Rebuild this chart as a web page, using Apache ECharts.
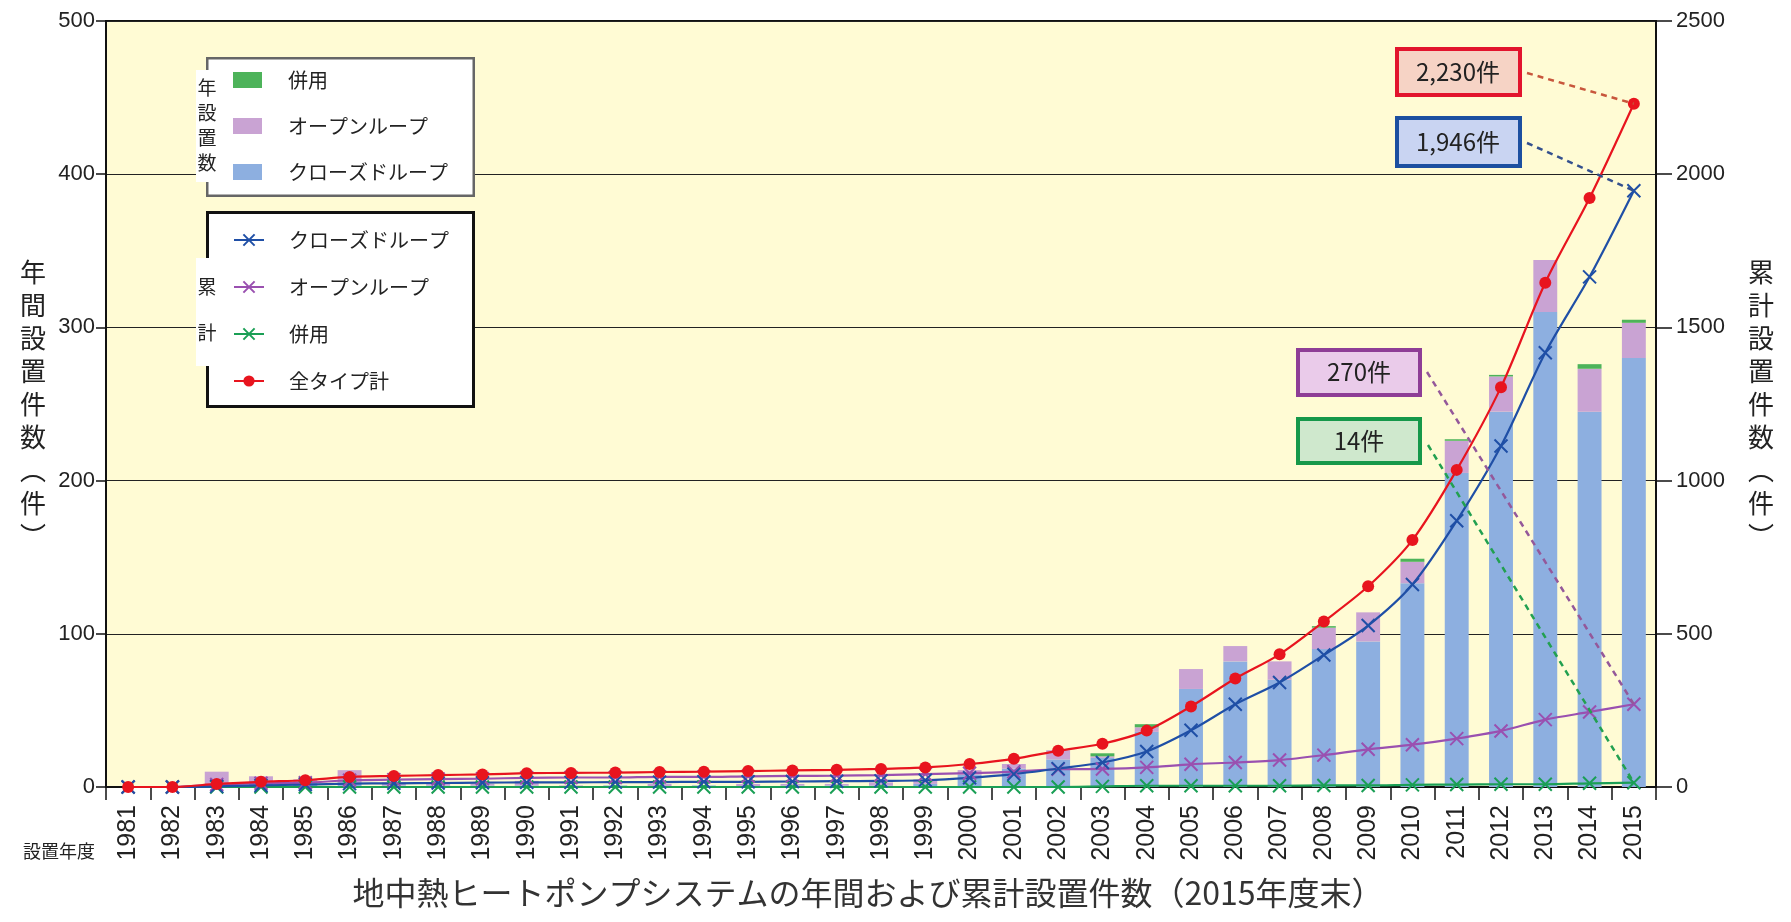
<!DOCTYPE html>
<html>
<head>
<meta charset="utf-8">
<title>地中熱ヒートポンプシステムの年間および累計設置件数</title>
<script src="https://cdn.jsdelivr.net/npm/echarts@6/dist/echarts.min.js"></script>
<style>
    html, body { margin: 0; padding: 0; background: #fff; }
    #chart { width: 1791px; height: 922px; }
</style>
</head>
<body>
<div id="chart"></div>
<script>
// 設置年度
var years = ['1981','1982','1983','1984','1985','1986','1987','1988','1989','1990',
             '1991','1992','1993','1994','1995','1996','1997','1998','1999','2000',
             '2001','2002','2003','2004','2005','2006','2007','2008','2009','2010',
             '2011','2012','2013','2014','2015'];

// 年設置数（左軸）
var annualClosed   = [0,0,2,3,3,3,1,1,1,1, 0,1,0,1,0,1,1,1,2,8, 12,18,19,36,64,82,70,90,95,133, 205,245,310,245,280];
var annualOpen     = [0,0,8,4,2,8,2,2,1,3, 1,0,2,0,2,1,1,2,3,3, 3,6,1,3,13,10,12,14,19,14, 21,23,34,28,23];
var annualCombined = [0,0,0,0,0,0,0,0,0,0, 0,0,0,0,0,0,0,0,0,0, 0,0,2,2,0,0,0,1,0,2, 1,1,0,3,2];

// 累計（右軸）
var cumClosed   = [0,0,2,5,8,11,12,13,14,15, 15,16,16,17,17,18,19,20,22,30, 42,60,80,116,185,270,341,431,527,661, 869,1113,1417,1665,1946];
var cumOpen     = [0,0,8,12,14,22,24,26,27,30, 31,31,33,33,35,36,37,39,42,45, 50,58,59,64,74,80,88,104,123,138, 158,183,220,245,270];
var cumCombined = [0,0,0,0,0,0,0,0,0,0, 0,0,0,0,0,0,0,0,0,0, 0,0,2,4,4,4,4,5,5,7, 8,9,9,12,14];
var cumTotal    = [0,0,10,17,22,33,36,39,41,45, 46,47,49,50,52,54,56,59,64,75, 92,118,141,184,263,354,433,540,655,806, 1035,1305,1646,1922,2230];

var leftTicks = [0, 100, 200, 300, 400, 500];
var rightTicks = [0, 500, 1000, 1500, 2000, 2500];

var jp = '"Noto Sans CJK JP", sans-serif';
var num = '"Liberation Sans", Arial, sans-serif';
var cross = 'path://M0,0L10,10M10,0L0,10';

var colClosedBar = '#8DAFE0', colOpenBar = '#C9A3D3', colCombBar = '#4DB35A';
var colClosed = '#1F4FA6', colOpen = '#9A50B0', colComb = '#1A9F55', colTotal = '#E8141E';

function stripName(name) { return name.split('_')[1]; }

var chart = echarts.init(document.getElementById('chart'));

var option = {
    animation: false,
    backgroundColor: '#fff',
    grid: {
        left: 106, right: 135, top: 21, bottom: 135,
        show: true, backgroundColor: '#FFFBD4', borderColor: '#111', borderWidth: 2
    },
    legend: [
        {
            data: ['年_併用', '年_オープンループ', '年_クローズドループ'],
            orient: 'vertical', left: 233, top: 68, padding: 0,
            icon: 'rect', itemWidth: 29, itemHeight: 16, itemGap: 22,
            selectedMode: false, formatter: stripName, z: 20,
            textStyle: { fontFamily: jp, fontSize: 20, lineHeight: 24, color: '#222', padding: [0, 0, 0, 21] }
        },
        {
            data: ['累計_クローズドループ', '累計_オープンループ', '累計_併用', '累計_全タイプ計'],
            orient: 'vertical', left: 233, top: 228, padding: 0,
            itemWidth: 30, itemHeight: 14, itemGap: 23,
            selectedMode: false, formatter: stripName, z: 20,
            textStyle: { fontFamily: jp, fontSize: 20, lineHeight: 24, color: '#222', padding: [0, 0, 0, 20] }
        }
    ],
    xAxis: {
        type: 'category', data: years, boundaryGap: true,
        axisLine: { lineStyle: { color: '#111', width: 2 } },
        axisTick: { show: true, length: 13, lineStyle: { color: '#111', width: 1.5 } },
        axisLabel: { rotate: 90, interval: 0, margin: 18, fontSize: 25, color: '#222', fontFamily: num }
    },
    yAxis: [
        {
            type: 'value', min: leftTicks[0], max: leftTicks[leftTicks.length - 1], interval: 100,
            name: '年\n間\n設\n置\n件\n数\n︵\n件\n︶',
            nameLocation: 'middle', nameRotate: 0, nameGap: 60,
            nameTextStyle: { fontFamily: jp, fontSize: 26, lineHeight: 33, color: '#222', padding: [30, 0, 0, 0] },
            axisLine: { show: true, lineStyle: { color: '#111', width: 2 } },
            axisTick: { show: true, length: 10, lineStyle: { color: '#111', width: 1.5 } },
            axisLabel: { margin: 11, fontSize: 22, color: '#222', fontFamily: num },
            splitLine: { show: true, lineStyle: { color: '#222', width: 1.2 } }
        },
        {
            type: 'value', position: 'right',
            min: rightTicks[0], max: rightTicks[rightTicks.length - 1], interval: 500,
            name: '累\n計\n設\n置\n件\n数\n︵\n件\n︶',
            nameLocation: 'middle', nameRotate: 0, nameGap: 92,
            nameTextStyle: { fontFamily: jp, fontSize: 26, lineHeight: 33, color: '#222', padding: [30, 0, 0, 0] },
            axisLine: { show: true, lineStyle: { color: '#111', width: 2 } },
            axisTick: { show: true, length: 16, lineStyle: { color: '#111', width: 1.5 } },
            axisLabel: { margin: 20, fontSize: 22, color: '#222', fontFamily: num,
                         formatter: function (v) { return String(v); } },
            splitLine: { show: false }
        }
    ],
    series: [
        { name: '年_クローズドループ', type: 'bar', stack: 'annual', yAxisIndex: 0, barWidth: '54%',
          data: annualClosed, itemStyle: { color: colClosedBar }, z: 1 },
        { name: '年_オープンループ', type: 'bar', stack: 'annual', yAxisIndex: 0, barWidth: '54%',
          data: annualOpen, itemStyle: { color: colOpenBar }, z: 1 },
        { name: '年_併用', type: 'bar', stack: 'annual', yAxisIndex: 0, barWidth: '54%',
          data: annualCombined, itemStyle: { color: colCombBar }, z: 1 },
        { name: '累計_併用', type: 'line', yAxisIndex: 1, data: cumCombined, smooth: 0.3,
          symbol: cross, symbolSize: 13,
          lineStyle: { color: colComb, width: 2.2 },
          itemStyle: { color: colComb, borderColor: colComb, borderWidth: 2 }, z: 3 },
        { name: '累計_オープンループ', type: 'line', yAxisIndex: 1, data: cumOpen, smooth: 0.3,
          symbol: cross, symbolSize: 13,
          lineStyle: { color: colOpen, width: 2.2 },
          itemStyle: { color: colOpen, borderColor: colOpen, borderWidth: 2 }, z: 3 },
        { name: '累計_クローズドループ', type: 'line', yAxisIndex: 1, data: cumClosed, smooth: 0.3,
          symbol: cross, symbolSize: 13,
          lineStyle: { color: colClosed, width: 2.2 },
          itemStyle: { color: colClosed, borderColor: colClosed, borderWidth: 2 }, z: 3 },
        { name: '累計_全タイプ計', type: 'line', yAxisIndex: 1, data: cumTotal, smooth: 0.3,
          symbol: 'circle', symbolSize: 12,
          lineStyle: { color: colTotal, width: 2.2 },
          itemStyle: { color: colTotal }, z: 4 }
    ]
};

chart.setOption(option);

// 凡例の枠・注記ボックスと引き出し線
var last = years.length - 1;
function pt(v) { return chart.convertToPixel({ xAxisIndex: 0, yAxisIndex: 1 }, [years[last], v]); }
var pTotal = pt(cumTotal[last]), pClosed = pt(cumClosed[last]),
    pOpen = pt(cumOpen[last]), pComb = pt(cumCombined[last]);

function frame(x, y, w, h, stroke, fill, lw, z) {
    return { type: 'rect', z: z, shape: { x: x + lw / 2, y: y + lw / 2, width: w - lw, height: h - lw },
             style: { fill: fill, stroke: stroke, lineWidth: lw } };
}
function label(text, x, y, size, color, z, lh) {
    return { type: 'text', z: z, style: { text: text, x: x, y: y, fill: color, align: 'center', verticalAlign: 'middle',
             font: size + 'px ' + jp, lineHeight: lh || size } };
}
function leader(x, y, p, color) {
    return { type: 'line', z: 12, shape: { x1: x, y1: y, x2: p[0], y2: p[1] },
             style: { stroke: color, lineWidth: 2.5, lineDash: [6, 5] } };
}

var graphics = [
    frame(206, 57, 269, 140, '#666', '#fff', 2.5, 3),
    frame(206, 211, 269, 197, '#111', '#fff', 3, 3),
    { type: 'rect', z: 9, shape: { x: 196, y: 70, width: 22, height: 112 }, style: { fill: '#fff' } },
    { type: 'rect', z: 9, shape: { x: 196, y: 258, width: 22, height: 108 }, style: { fill: '#fff' } },
    label('年\n設\n置\n数', 207, 125, 19, '#222', 10, 25),
    label('累\n\n計', 207, 310, 19, '#222', 10, 23),

    leader(1527, 73, pTotal, '#C8563C'),
    leader(1527, 143, pClosed, '#34508E'),
    leader(1427, 372, pOpen, '#94589A'),
    leader(1428, 445, pComb, '#22A050'),

    frame(1395, 47, 127, 50, '#E2142D', '#F6D3C5', 4, 11),
    label('2,230件', 1458, 72, 24, '#222', 12),
    frame(1395, 116, 127, 52, '#1C4FA0', '#C9D4F2', 4, 11),
    label('1,946件', 1458, 142, 24, '#222', 12),
    frame(1296, 348, 126, 49, '#8E3D96', '#EACBEA', 4, 11),
    label('270件', 1359, 372, 24, '#222', 12),
    frame(1296, 417, 126, 48, '#16984A', '#CFE8CD', 4, 11),
    label('14件', 1359, 441, 24, '#222', 12),

    { type: 'text', z: 10, style: { text: '設置年度', x: 23, y: 851, fill: '#222', align: 'left',
      verticalAlign: 'middle', font: '18px ' + jp } },
    label('地中熱ヒートポンプシステムの年間および累計設置件数（2015年度末）', 868, 893, 32, '#333', 10)
];

chart.setOption({ graphic: graphics });
</script>
</body>
</html>
